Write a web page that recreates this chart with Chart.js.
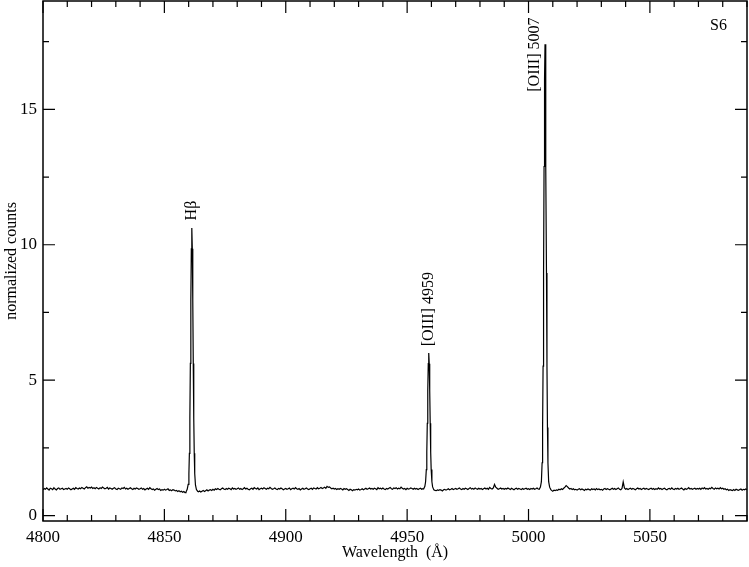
<!DOCTYPE html>
<html>
<head>
<meta charset="utf-8">
<script src="https://cdn.jsdelivr.net/npm/chart.js@4/dist/chart.umd.min.js"></script>
<style>
  body { margin: 0; background: #fff; }
</style>
</head>
<body>
<canvas id="spectrum" width="749" height="567"></canvas>
<script>
// continuum, sampled every 0.5 A from 4800 (null where a line profile takes over)
const contStart = 4800;
const contStep = 0.5;
const contFlux = [
  0.95, 1.00, 0.97, 1.02, 0.98, 0.94, 1.01, 0.99, 0.96, 1.03, 0.98, 0.95, 1.00, 1.02, 0.97, 0.99, 1.01, 0.96, 0.98, 1.00,
  0.97, 1.02, 0.99, 0.95, 0.98, 1.01, 0.97, 1.03, 1.00, 0.98, 1.02, 0.99, 1.04, 1.01, 0.98, 1.03, 1.06, 1.01, 1.04, 1.02,
  1.05, 1.00, 1.03, 0.99, 1.04, 1.01, 0.98, 1.03, 1.00, 1.05, 1.02, 0.99, 1.01, 1.04, 0.98, 1.02, 1.00, 0.97, 1.01, 1.03,
  0.98, 0.96, 1.01, 0.99, 0.97, 1.02, 1.00, 1.04, 0.98, 1.01, 0.97, 1.00, 1.03, 0.99, 0.96, 1.01, 0.98, 1.02, 1.00, 0.97,
  0.99, 1.02, 0.97, 1.00, 0.95, 0.98, 1.01, 0.97, 1.03, 0.99, 0.96, 0.98, 0.94, 0.97, 1.00, 0.96, 0.98, 0.93, 0.96, 0.94,
  0.97, 0.94, 0.96, 0.99, 0.93, 0.95, 0.92, 0.96, 0.94, 0.91, 0.93, 0.89, 0.92, 0.88, 0.90, 0.86, 0.89, 0.85, null, null,
  null, null, null, null, null, null, null, null, 0.88, 0.91, 0.87, 0.90, 0.93, 0.89, 0.92, 0.95, 0.91, 0.94, 0.96, 0.93,
  0.97, 0.94, 0.99, 0.96, 1.00, 0.97, 0.95, 0.99, 1.02, 0.98, 0.96, 1.00, 0.97, 1.01, 0.99, 0.96, 1.02, 0.98, 1.00, 0.97,
  0.99, 1.02, 0.97, 1.00, 0.96, 0.99, 1.03, 0.98, 1.01, 0.97, 0.95, 0.99, 1.01, 0.97, 1.03, 1.00, 0.98, 1.02, 0.96, 0.99,
  1.01, 0.98, 1.03, 1.00, 0.97, 1.01, 0.99, 1.04, 1.00, 0.97, 0.99, 1.02, 0.98, 0.96, 1.00, 0.98, 1.02, 0.99, 0.95, 0.98,
  1.00, 0.97, 0.99, 1.02, 0.96, 0.99, 1.01, 0.98, 1.03, 0.99, 0.97, 1.00, 0.95, 0.98, 1.01, 0.97, 0.99, 1.02, 0.98, 0.96,
  0.99, 1.01, 0.97, 1.02, 1.00, 0.98, 1.03, 0.99, 1.01, 1.04, 1.00, 1.02, 1.05, 1.01, 1.08, 1.04, 1.06, 1.02, 0.99, 1.01,
  0.98, 1.00, 0.96, 0.99, 0.97, 1.00, 0.98, 0.95, 1.00, 0.97, 0.99, 0.96, 0.93, 0.97, 0.95, 0.92, 0.96, 0.94, 0.97, 0.95,
  0.98, 0.94, 0.96, 0.99, 0.95, 0.98, 1.01, 0.97, 0.99, 1.02, 0.98, 1.00, 0.97, 1.01, 0.99, 0.96, 1.03, 0.99, 1.01, 0.98,
  1.02, 0.98, 0.96, 1.00, 0.98, 1.01, 1.04, 0.99, 0.97, 1.02, 1.00, 1.03, 0.98, 1.01, 0.99, 1.05, 1.01, 0.98, 1.00, 0.96,
  1.01, 0.98, 0.99, 1.02, 1.00, 0.97, 1.01, 0.98, 1.00, 0.96, 0.99, 1.01, 0.97, 0.99, null, null, null, null, null, null,
  null, null, null, null, 0.92, 0.95, 0.93, 0.96, 0.94, 0.91, 0.95, 0.97, 0.94, 0.96, 0.99, 0.95, 0.97, 1.00, 0.96, 0.98,
  1.00, 0.97, 0.99, 1.02, 0.98, 0.96, 1.00, 0.97, 1.01, 0.99, 0.96, 1.00, 1.03, 0.98, 1.00, 0.97, 1.02, 0.99, 0.97, 1.01,
  0.98, 1.00, 0.96, 0.99, 1.02, 0.98, 1.01, 0.97, 1.04, 1.00, 0.98, 1.02, 1.15, 1.05, 1.01, 0.97, 0.99, 1.02, 0.98, 1.00,
  0.97, 1.00, 0.98, 1.02, 0.99, 0.96, 1.01, 0.98, 0.95, 0.99, 1.01, 0.97, 1.00, 0.98, 0.96, 1.00, 0.97, 0.99, 1.01, 0.97,
  0.99, 0.96, 1.00, 0.98, 1.01, 0.97, 0.99, 1.02, 0.98, null, null, null, null, null, null, null, null, null, null, 0.93,
  0.90, 0.94, 0.92, 0.95, 0.93, 0.97, 0.95, 0.99, 0.96, 1.01, 1.05, 1.11, 1.07, 1.02, 0.98, 1.00, 0.96, 0.99, 0.95, 0.97,
  0.94, 0.97, 0.99, 0.95, 0.98, 0.96, 0.93, 0.97, 0.95, 0.98, 0.96, 0.94, 0.99, 0.96, 0.98, 0.95, 1.00, 0.96, 0.98, 0.95,
  0.97, 0.94, 0.98, 1.00, 0.96, 0.99, 0.97, 0.95, 0.98, 1.01, 0.97, 1.00, 0.96, 0.99, 1.02, 0.97, 0.95, 1.00, 1.24, 1.02,
  0.97, 1.00, 0.96, 0.99, 1.01, 0.97, 1.00, 0.98, 0.95, 0.99, 1.02, 0.98, 1.00, 0.96, 0.99, 1.01, 0.97, 1.00, 0.98, 0.96,
  0.99, 1.01, 0.97, 1.00, 0.96, 0.99, 0.97, 1.02, 0.98, 1.00, 0.96, 0.99, 1.01, 0.97, 0.95, 0.99, 1.00, 0.97, 1.02, 0.98,
  0.96, 1.00, 0.98, 1.01, 0.97, 0.99, 1.02, 0.98, 0.95, 1.00, 0.97, 0.99, 1.03, 0.98, 1.00, 0.97, 0.99, 1.01, 0.97, 1.00,
  0.98, 1.01, 0.97, 1.02, 0.99, 1.03, 0.98, 1.00, 0.97, 1.01, 0.99, 1.04, 1.00, 0.97, 1.02, 0.99, 1.01, 0.98, 1.03, 0.99,
  1.01, 0.97, 0.99, 0.95, 0.97, 0.93, 0.96, 0.94, 0.92, 0.96, 0.93, 0.97, 0.95, 0.93, 0.96, 0.98, 0.94, 0.97, 0.95, 0.98,
  0.96
];

// emission line profiles, finer sampling
const hbWave = [4858.9, 4859.4, 4859.8, 4860.1, 4860.3, 4860.5, 4860.7, 4860.9, 4861.1, 4861.3, 4861.5, 4861.7, 4861.9, 4862.1, 4862.3, 4862.5, 4862.8, 4863.2, 4863.7];
const hbFlux = [0.87, 0.97, 1.15, 1.55, 2.30, 3.60, 5.62, 7.94, 9.85, 10.62, 9.85, 7.94, 5.62, 3.60, 2.30, 1.55, 1.13, 0.96, 0.90];

const o3aWave = [4956.8, 4957.3, 4957.6, 4957.9, 4958.1, 4958.3, 4958.5, 4958.7, 4958.9, 4959.1, 4959.3, 4959.5, 4959.7, 4959.9, 4960.2, 4960.5, 4961.0, 4961.5];
const o3aFlux = [0.98, 1.08, 1.25, 1.70, 2.35, 3.41, 4.62, 5.61, 6.00, 5.61, 4.62, 3.41, 2.35, 1.70, 1.25, 1.06, 0.95, 0.93];

const o3bWave = [5004.4, 5004.9, 5005.3, 5005.6, 5005.8, 5006.0, 5006.2, 5006.4, 5006.6, 5006.8, 5007.0, 5007.2, 5007.4, 5007.6, 5007.8, 5008.0, 5008.3, 5008.7, 5009.2];
const o3bFlux = [0.97, 1.05, 1.25, 1.95, 3.25, 5.52, 8.96, 12.89, 16.13, 17.40, 16.13, 12.89, 8.96, 5.52, 3.25, 1.95, 1.25, 1.05, 0.96];

// line labels: text, wavelength and height where the label starts
const lineNames = ['H\u03b2', '[OIII] 4959', '[OIII] 5007'];
const lineLabelX = [4861.5, 4959.1, 5002.6];
const lineLabelY = [10.9, 6.25, 15.65];

const xTicks = [4800, 4850, 4900, 4950, 5000, 5050];
const yTicks = [0, 5, 10, 15];

const serif = '"Liberation Serif", "Times New Roman", serif';

// merge continuum and line profiles into one sorted series
const points = [];
contFlux.forEach((v, i) => {
  if (v !== null) points.push({ x: contStart + i * contStep, y: v });
});
[[hbWave, hbFlux], [o3aWave, o3aFlux], [o3bWave, o3bFlux]].forEach(([w, f]) => {
  w.forEach((x, i) => points.push({ x: x, y: f[i] }));
});
points.sort((a, b) => a.x - b.x);

const framePlugin = {
  id: 'frame',
  afterDraw(chart) {
    const { ctx, chartArea: a, scales: { x, y } } = chart;
    ctx.save();
    ctx.strokeStyle = '#000';
    ctx.lineWidth = 1.5;
    ctx.strokeRect(a.left, a.top, a.right - a.left, a.bottom - a.top);

    ctx.lineWidth = 1.2;
    ctx.beginPath();
    for (let v = 4800; v <= 5090; v += 10) {
      const px = x.getPixelForValue(v);
      const len = v % 50 === 0 ? 12 : 6;
      ctx.moveTo(px, a.bottom); ctx.lineTo(px, a.bottom - len);
      ctx.moveTo(px, a.top); ctx.lineTo(px, a.top + len);
    }
    for (let v = 0; v <= 19; v += 2.5) {
      const py = y.getPixelForValue(v);
      const len = v % 5 === 0 ? 12 : 6;
      ctx.moveTo(a.left, py); ctx.lineTo(a.left + len, py);
      ctx.moveTo(a.right, py); ctx.lineTo(a.right - len, py);
    }
    ctx.stroke();

    // rotated line labels
    ctx.fillStyle = '#000';
    ctx.font = '16px ' + serif;
    ctx.textAlign = 'left';
    ctx.textBaseline = 'middle';
    lineNames.forEach((name, i) => {
      ctx.save();
      ctx.translate(x.getPixelForValue(lineLabelX[i]), y.getPixelForValue(lineLabelY[i]));
      ctx.rotate(-Math.PI / 2);
      ctx.fillText(name, 0, 0);
      ctx.restore();
    });

    ctx.textAlign = 'right';
    ctx.textBaseline = 'alphabetic';
    ctx.fillText('S6', a.right - 20, a.top + 29);
    ctx.restore();
  }
};

new Chart(document.getElementById('spectrum'), {
  type: 'line',
  data: {
    datasets: [{
      data: points,
      borderColor: '#000',
      borderWidth: 1.2,
      pointRadius: 0,
      tension: 0
    }]
  },
  options: {
    responsive: false,
    animation: false,
    layout: { padding: { top: 1, right: 2, left: 0, bottom: 0 } },
    plugins: {
      legend: { display: false },
      tooltip: { enabled: false }
    },
    scales: {
      x: {
        type: 'linear',
        min: 4800,
        max: 5090,
        afterBuildTicks: (s) => { s.ticks = xTicks.map(v => ({ value: v })); },
        afterFit: (s) => { s.height = 46; s.paddingLeft = 0; s.paddingRight = 0; },
        grid: { display: false, drawTicks: false },
        border: { display: false },
        ticks: {
          color: '#000',
          font: { family: serif, size: 17 },
          padding: 6,
          maxRotation: 0,
          autoSkip: false,
          callback: (v) => String(v)
        },
        title: {
          display: true,
          text: 'Wavelength  (\u00c5)',
          color: '#000',
          font: { family: serif, size: 16 },
          padding: { top: 0, bottom: 5 }
        }
      },
      y: {
        min: -0.2,
        max: 19,
        afterBuildTicks: (s) => { s.ticks = yTicks.map(v => ({ value: v })); },
        afterFit: (s) => { s.width = 43; s.paddingTop = 0; s.paddingBottom = 0; },
        grid: { display: false, drawTicks: false },
        border: { display: false },
        ticks: {
          color: '#000',
          font: { family: serif, size: 17 },
          padding: 6,
          callback: (v) => String(v)
        },
        title: {
          display: true,
          text: 'normalized counts',
          color: '#000',
          font: { family: serif, size: 16 },
          padding: { top: 2, bottom: 0 }
        }
      }
    }
  },
  plugins: [framePlugin]
});
</script>
</body>
</html>
